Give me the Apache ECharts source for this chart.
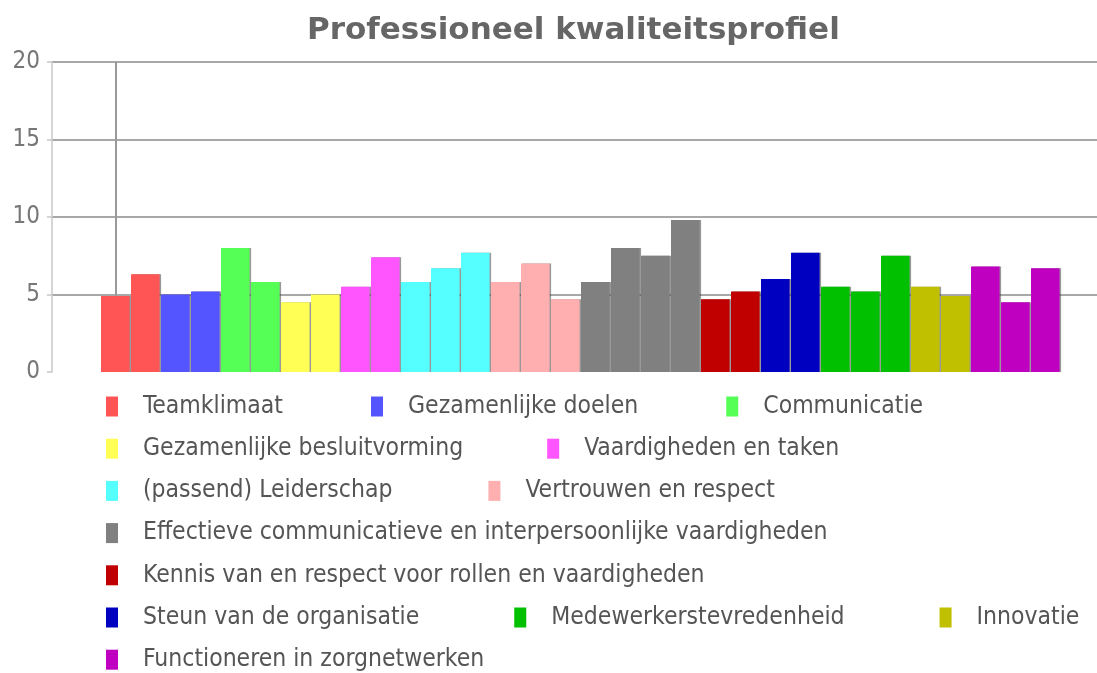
<!DOCTYPE html>
<html>
<head>
<meta charset="utf-8">
<title>Professioneel kwaliteitsprofiel</title>
<script src="https://cdn.jsdelivr.net/npm/echarts@6/dist/echarts.min.js"></script>
<style>
  html, body { margin: 0; padding: 0; background: #fff; }
  #chartArea { width: 1097px; height: 673px; }
</style>
</head>
<body>
<div id="chartArea"></div>
<script>
// groepen (legenda) en kleuren
var groupNames = [
    'Teamklimaat',
    'Gezamenlijke doelen',
    'Communicatie',
    'Gezamenlijke besluitvorming',
    'Vaardigheden en taken',
    '(passend) Leiderschap',
    'Vertrouwen en respect',
    'Effectieve communicatieve en interpersoonlijke vaardigheden',
    'Kennis van en respect voor rollen en vaardigheden',
    'Steun van de organisatie',
    'Medewerkerstevredenheid',
    'Innovatie',
    'Functioneren in zorgnetwerken'
];
var groupColors = ['#ff5555', '#5555ff', '#55ff55', '#ffff55', '#ff55ff', '#55ffff',
    '#ffafaf', '#808080', '#c00000', '#0000c0', '#00c000', '#c0c000', '#c000c0'];

// scores per vraag, per groep
var teamklimaat = [4.9, 6.3];
var doelen = [5.0, 5.2];
var communicatie = [8.0, 5.8];
var besluitvorming = [4.5, 5.0];
var vaardigheden = [5.5, 7.4];
var leiderschap = [5.8, 6.7, 7.7];
var vertrouwen = [5.8, 7.0, 4.7];
var effectieve = [5.8, 8.0, 7.5, 9.8];
var kennis = [4.7, 5.2];
var steun = [6.0, 7.7];
var tevredenheid = [5.5, 5.2, 7.5];
var innovatie = [5.5, 4.9];
var zorgnetwerken = [6.8, 4.5, 6.7];

var groupValues = [teamklimaat, doelen, communicatie, besluitvorming, vaardigheden,
    leiderschap, vertrouwen, effectieve, kennis, steun, tevredenheid, innovatie, zorgnetwerken];

var yTicks = [0, 5, 10, 15, 20];

// legenda rijen zoals in het origineel (met ruimte tussen de items)
var legendRows = [
    ['Teamklimaat', 'Gezamenlijke doelen', 'Communicatie'],
    ['Gezamenlijke besluitvorming', 'Vaardigheden en taken'],
    ['(passend) Leiderschap', 'Vertrouwen en respect'],
    ['Effectieve communicatieve en interpersoonlijke vaardigheden'],
    ['Kennis van en respect voor rollen en vaardigheden'],
    ['Steun van de organisatie', 'Medewerkerstevredenheid', 'Innovatie'],
    ['Functioneren in zorgnetwerken']
];
var legendGaps = [88, 84, 96, 88, 88, 95, 88];

var fontFam = "'DejaVu Sans Condensed', 'DejaVu Sans', sans-serif";

// categorieen = een slot per balk
var total = 0;
groupValues.forEach(function (v) { total += v.length; });
var categories = [];
for (var i = 0; i < total; i++) categories.push(String(i + 1));

var series = [];
var pos = 0;
groupValues.forEach(function (vals, g) {
    var data = [];
    for (var k = 0; k < total; k++) data.push('-');
    for (var j = 0; j < vals.length; j++) data[pos + j] = vals[j];
    pos += vals.length;
    var s = {
        name: groupNames[g],
        type: 'bar',
        stack: 'all',
        xAxisIndex: 1,
        yAxisIndex: 1,
        barWidth: 28.6,
        itemStyle: {
            color: groupColors[g],
            shadowColor: 'rgba(70,70,70,0.55)',
            shadowOffsetX: 1.5,
            shadowOffsetY: 0,
            shadowBlur: 0
        },
        data: data
    };
    if (g === 0) {
        s.markLine = {
            silent: true,
            z: 1,
            symbol: ['none', 'none'],
            label: { show: false },
            lineStyle: { color: '#999', width: 2, type: 'solid' },
            data: [{ xAxis: 0 }]
        };
    }
    series.push(s);
});

var legends = legendRows.map(function (row, r) {
    return {
        data: row,
        left: 106,
        top: 394 + r * 42.2,
        padding: 0,
        orient: 'horizontal',
        itemWidth: 12,
        itemHeight: 20,
        itemGap: legendGaps[r],
        icon: 'rect',
        selectedMode: false,
        textStyle: {
            fontFamily: fontFam,
            fontSize: 24.5,
            color: '#555',
            lineHeight: 20,
            padding: [0, 0, 0, 20]
        }
    };
});

var option = {
    animation: false,
    backgroundColor: '#fff',
    title: {
        text: 'Professioneel kwaliteitsprofiel',
        left: 302,
        top: 10,
        textStyle: {
            fontFamily: "'DejaVu Sans', sans-serif",
            fontSize: 31,
            fontWeight: 'bold',
            color: '#666'
        }
    },
    legend: legends,
    grid: [
        { left: 52, right: 0, top: 62, height: 310 },
        { left: 100.3, right: 36.7, top: 62, height: 310 }
    ],
    xAxis: [
        { gridIndex: 0, type: 'category', data: categories, show: false },
        { gridIndex: 1, type: 'category', data: categories, show: false }
    ],
    yAxis: [
        {
            gridIndex: 0,
            type: 'value',
            min: yTicks[0],
            max: yTicks[yTicks.length - 1],
            interval: 5,
            axisLine: { show: true, lineStyle: { color: '#c8c8c8', width: 1.5 } },
            axisTick: { show: true, length: 5, lineStyle: { color: '#c8c8c8', width: 1.5 } },
            axisLabel: { fontFamily: fontFam, fontSize: 24, color: '#777', margin: 12, padding: [3, 0, 0, 0] },
            splitLine: { show: true, showMinLine: false, lineStyle: { color: '#a8a8a8', width: 2 } }
        },
        {
            gridIndex: 1,
            type: 'value',
            min: yTicks[0],
            max: yTicks[yTicks.length - 1],
            interval: 5,
            show: false,
            splitLine: { show: false }
        }
    ],
    series: series
};

var myChart = echarts.init(document.getElementById('chartArea'), null, { renderer: 'canvas' });
myChart.setOption(option);
</script>
</body>
</html>
